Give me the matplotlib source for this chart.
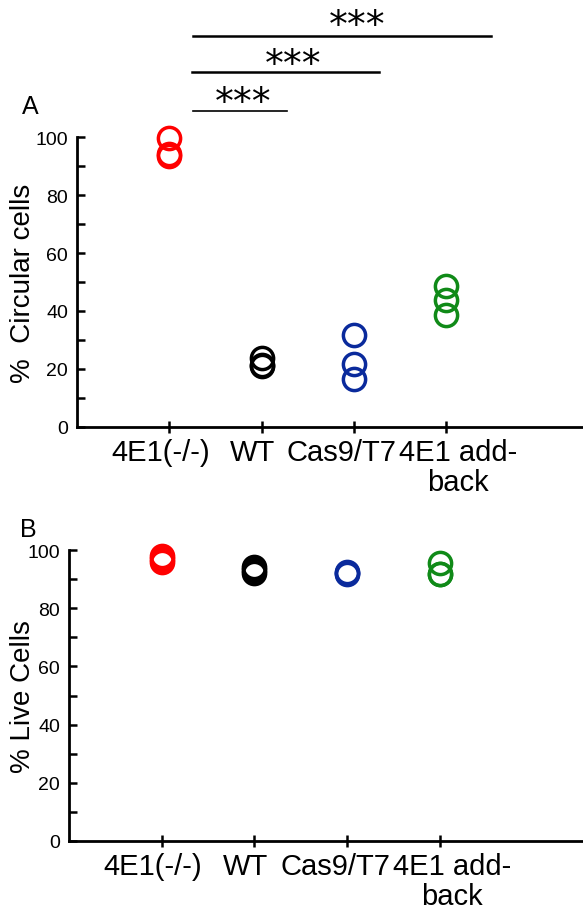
import matplotlib
matplotlib.use("Agg")
import matplotlib.pyplot as plt
import matplotlib.transforms as mtransforms
import numpy as np

plt.rcParams['font.family'] = ['Liberation Sans', 'DejaVu Sans']

# groups and replicate values
groups = ["4E1(-/-)", "WT", "Cas9/T7", "4E1 add-\nback"]
colors = ["#ff0000", "#000000", "#0a2a9c", "#108a18"]

circular = [
    [99.5, 94.0, 93.5],
    [23.7, 21.5, 20.9],
    [31.7, 21.6, 16.7],
    [48.6, 43.7, 38.5],
]
live = [
    [98.0, 97.0, 96.0],
    [94.0, 93.0, 92.0],
    [92.6, 92.2, 91.8],
    [95.6, 91.6, 91.8],
]

# significance brackets (start, end, height) and star position
brackets = [(1.26, 2.27, 109.0), (1.25, 3.27, 122.4), (1.26, 4.48, 134.8)]
star_pos = [(1.80, 111.6), (2.34, 125.0), (3.04, 138.2)]
bracket_lw = [1.2, 1.8, 1.8]

W, H = 583, 912
fig = plt.figure(figsize=(W / 100, H / 100), dpi=100)

def px_axes(left, bottom, right, top):
    return fig.add_axes([left / W, 1 - bottom / H, (right - left) / W, (bottom - top) / H])

axA = px_axes(77, 428, 583, 138)
axB = px_axes(69, 842, 583, 551)

label_shift = [-9, -9, -12, 12]

def style(ax, data, ylabel, xmax, ylab_x):
    x = np.arange(1, len(groups) + 1)
    for i, vals in enumerate(data):
        ax.plot([x[i]] * len(vals), vals, linestyle="none", marker="o",
                markersize=16, markerfacecolor="none",
                markeredgecolor=colors[i], markeredgewidth=2.5, clip_on=False)
    ax.set_xlim(0, xmax)
    ax.set_ylim(0, 100)
    ax.spines['top'].set_visible(False)
    ax.spines['right'].set_visible(False)
    for s in ['left', 'bottom']:
        ax.spines[s].set_linewidth(2.0)
    ax.set_yticks([0, 20, 40, 60, 80, 100])
    ax.set_yticks([10, 30, 50, 70, 90], minor=True)
    ax.set_xticks(x)
    ax.set_xticklabels(groups, fontsize=21, linespacing=1.1)
    ax.tick_params(axis='y', which='both', direction='in', length=6, width=1.8,
                   labelsize=14, pad=6.5)
    ax.tick_params(axis='x', direction='inout', length=8, width=1.8, pad=4)
    for lbl, dx in zip(ax.get_xticklabels(), label_shift):
        lbl.set_transform(lbl.get_transform() +
                          mtransforms.ScaledTranslation(dx / 100, 0, fig.dpi_scale_trans))
    ax.set_ylabel(ylabel, fontsize=20, va='center')
    ax.yaxis.set_label_coords(ylab_x, 0.5)

style(axA, circular, "%  Circular cells", 506 / 92.3, (23 - 77) / 506)
style(axB, live, "% Live Cells", 514 / 92.7, (23 - 69) / 514)

for (x0, x1, y), (sx, sy), lw in zip(brackets, star_pos, bracket_lw):
    axA.plot([x0, x1], [y, y], color="black", linewidth=lw, clip_on=False)
    axA.text(sx, sy, "***", fontsize=27, family="DejaVu Sans",
             ha="center", va="center", clip_on=False)

fig.text(30 / W, 1 - 107 / H, "A", fontsize=18, ha="center", va="center")
fig.text(28 / W, 1 - 530 / H, "B", fontsize=18, ha="center", va="center")

fig.savefig("out.png", dpi=100)
